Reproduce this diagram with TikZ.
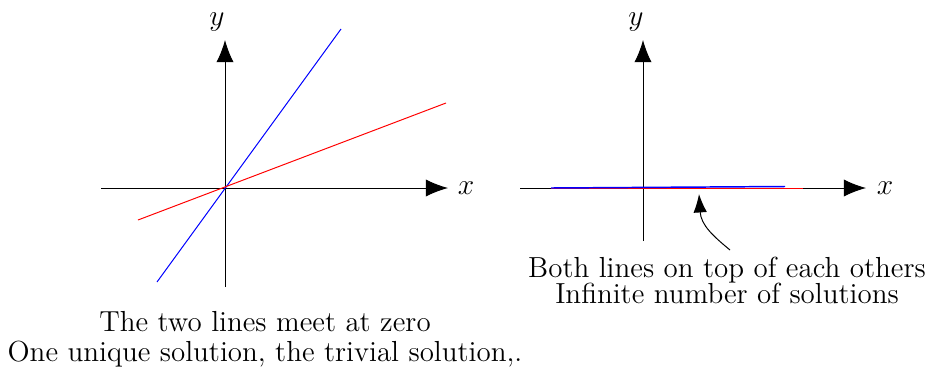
\documentclass[tikz,border=0pt]{standalone}
\usetikzlibrary{arrows.meta}
\begin{document}
\begin{tikzpicture}[x=0.0143cm,y=-0.0143cm,
  axis/.style={line width=0.4pt,-{Latex[length=9pt,width=7pt]}},
  lbl/.style={inner sep=0pt,font=\fontsize{12}{14.5}\selectfont},
  captxt/.style={anchor=base,inner sep=0pt,font=\fontsize{11.8}{14}\selectfont}]
\useasboundingbox (0,0) rectangle (932,373);
% left plot
\draw[axis] (101,188) -- (448,188);
\node[lbl] (x1) at (466,188) {$x$};
\draw[axis] (225,287) -- (225,40);
\node[lbl] (y1) at (217,22) {$y$};
\draw[blue] (157,282) -- (341,29);
\draw[red] (138,220) -- (446,103);
\node[captxt] (t1) at (265,331) {The two lines meet at zero};
\node[captxt] (t2) at (265,361) {One unique solution, the trivial solution,.};
% right plot
\draw[axis] (520,188) -- (866,188);
\node[lbl] (x2) at (885,188) {$x$};
\draw[axis] (643,241) -- (643,40);
\node[lbl] (y2) at (636,22) {$y$};
\draw[red,line width=0.5pt] (551,188.6) -- (803,188.6);
\draw[blue,line width=0.6pt] (551,188) -- (785,186.5);
\node[captxt] (t3) at (727,277) {Both lines on top of each others};
\node[captxt] (t4) at (727,303) {Infinite number of solutions};
\coordinate (tip) at (699,194);
\coordinate (start) at (730,250);
\draw[-{Latex[length=7.5pt,width=5.5pt]}] (start) .. controls (713,236) and (701,225) .. (tip);
\end{tikzpicture}
\end{document}
